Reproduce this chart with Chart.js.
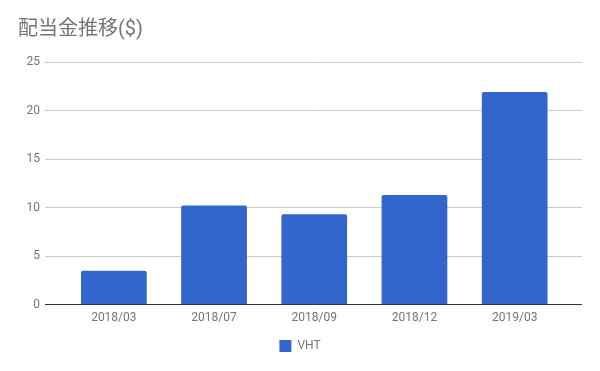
<!DOCTYPE html>
<html>
<head>
<meta charset="utf-8">
<script src="https://cdn.jsdelivr.net/npm/chart.js@4"></script>
<style>
html,body{margin:0;padding:0;background:#fff;}
#wrap{width:600px;height:371px;position:relative;}
</style>
</head>
<body>
<div id="wrap"><canvas id="c" width="600" height="371"></canvas></div>
<script>
const categories = ["2018/03", "2018/07", "2018/09", "2018/12", "2019/03"];
const vhtValues = [3.5, 10.2, 9.3, 11.3, 21.9];
const yTicks = [0, 5, 10, 15, 20, 25];
const seriesName = "VHT";
const chartTitle = "配当金推移($)";

const FONT = "Roboto, 'Noto Sans CJK JP', sans-serif";
const TEXT = "#757575";

new Chart(document.getElementById('c'), {
  type: 'bar',
  data: {
    datasets: [{
      label: seriesName,
      data: vhtValues.map((v, i) => ({x: i, y: v})),
      backgroundColor: '#3366cc',
      borderColor: '#3366cc',
      borderWidth: 0,
      borderRadius: 2,
      borderSkipped: 'bottom',
      categoryPercentage: 1,
      barPercentage: 0.656
    }]
  },
  options: {
    responsive: false,
    animation: false,
    devicePixelRatio: 1,
    layout: {padding: {left: 18, right: 18, top: 0, bottom: 9}},
    plugins: {
      title: {
        display: true,
        text: chartTitle,
        align: 'start',
        color: TEXT,
        font: {family: FONT, size: 20, weight: 'normal', lineHeight: 1.2},
        padding: {top: 17.5, bottom: 20.5}
      },
      legend: {
        position: 'bottom',
        labels: {
          boxWidth: 12,
          boxHeight: 12,
          padding: 8,
          color: TEXT,
          font: {family: FONT, size: 12}
        }
      },
      tooltip: {enabled: false}
    },
    scales: {
      x: {
        type: 'linear',
        min: -0.687,
        max: 4.672,
        offset: false,
        grid: {display: false, drawTicks: false},
        border: {display: false},
        afterBuildTicks: (scale) => {
          scale.ticks = categories.map((_, i) => ({value: i}));
        },
        ticks: {
          autoSkip: false,
          maxRotation: 0,
          padding: 6.5,
          color: TEXT,
          font: {family: FONT, size: 12},
          callback: (v) => categories[v] !== undefined ? categories[v] : ''
        }
      },
      y: {
        min: 0,
        max: 25,
        afterBuildTicks: (scale) => {
          scale.ticks = yTicks.map(v => ({value: v}));
        },
        afterFit: (scale) => { scale.width = 27; },
        grid: {
          drawTicks: false,
          color: (ctx) => ctx.tick && ctx.tick.value === 0 ? '#333333' : '#cccccc',
          lineWidth: 1
        },
        border: {display: false},
        ticks: {
          padding: 5,
          color: TEXT,
          font: {family: FONT, size: 12}
        }
      }
    }
  }
});
</script>
</body>
</html>
